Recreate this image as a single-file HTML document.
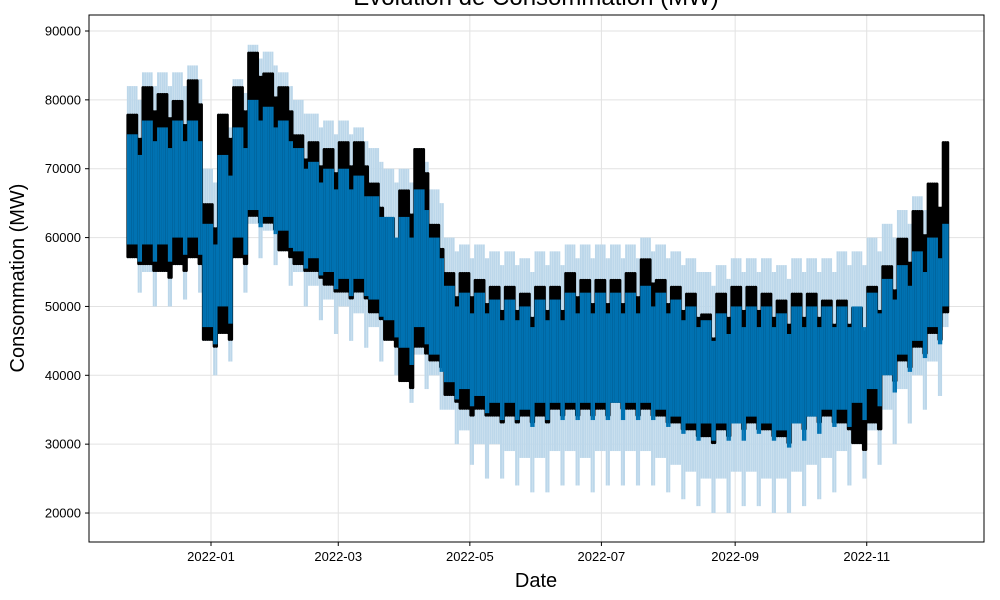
<!DOCTYPE html>
<html><head><meta charset="utf-8"><style>
body{margin:0;background:#fff;}
svg{display:block;font-family:"Liberation Sans","DejaVu Sans",sans-serif;}
</style></head><body>
<svg id="chart" width="1000" height="600">
<text x="536" y="5" text-anchor="middle" font-size="24" fill="#000">Évolution de Consommation (MW)</text>
<g id="grid"></g>
<g id="marks"></g>
<rect x="89" y="15" width="895" height="527" fill="none" stroke="#000" stroke-width="1"/>
<g id="axes"></g>
<text x="536" y="587" text-anchor="middle" font-size="20">Date</text>
<text transform="translate(24,278) rotate(-90)" text-anchor="middle" font-size="20">Consommation (MW)</text>
</svg>
<script>
// weekly data, week starts from 2021-11-23 (values in thousands MW)
const actMax=[78,82,81,80,83,65,78,82,87,84,82,75,74,73,74,74,68,63,67,73,62,55,55,54,53,53,52,53,53,55,54,54,54,55,57,54,53,52,49,52,53,53,52,51,52,52,51,51,50,53,56,60,64,68,74];
const actMin=[57,56,55,56,57,45,46,57,63,62,58,56,55,53,52,52,49,45,39,44,42,37,35,35,34,34,34,34,35,35,35,35,36,35,35,34,33,32,31,32,33,33,32,31,33,34,34,33,30,33,40,42,44,46,49];
const fcMax=[75,77,76,77,77,62,72,76,80,79,77,73,71,70,70,69,66,63,63,67,60,53,52,52,51,51,50,51,51,52,52,52,52,52,53,52,51,50,48,49,50,50,50,49,50,50,50,50,50,52,54,56,58,60,62];
const fcMin=[59,59,59,60,60,47,50,60,64,63,61,58,57,55,54,54,51,48,44,47,43,39,38,37,36,36,35,36,36,36,36,36,36,36,36,35,34,33,33,33,33,34,33,32,33,34,35,35,36,38,40,43,45,47,50];
const upMax=[82,84,84,84,85,70,78,83,88,87,84,80,78,77,77,76,73,70,70,73,67,60,59,59,58,58,57,58,58,59,59,59,59,59,60,59,58,57,55,56,57,57,57,56,57,57,57,58,58,60,62,64,66,66,66];
const upMin=[52,50,50,51,52,40,42,52,57,56,53,50,48,46,45,44,42,40,36,38,35,30,27,25,25,24,23,23,24,24,23,24,24,24,24,23,22,21,20,20,21,21,20,20,21,22,23,24,25,27,30,33,35,37,42];
const yTicks=[20000,30000,40000,50000,60000,70000,80000,90000];
const xTickLabels=["2022-01","2022-03","2022-05","2022-07","2022-09","2022-11"];
const xTickDays=[0,59,120,181,243,304];

const NS="http://www.w3.org/2000/svg";
const X=d=>211+d*2.157;
const Y=v=>31+(90000-v)/1000*6.886;
const startDay=-39;
function el(tag,attrs,parent){const e=document.createElementNS(NS,tag);for(const k in attrs)e.setAttribute(k,attrs[k]);parent.appendChild(e);return e;}
const grid=document.getElementById('grid'),axes=document.getElementById('axes'),marks=document.getElementById('marks');
yTicks.forEach(v=>{
  const g=el('line',{x1:89,x2:984,y1:Y(v),y2:Y(v),stroke:'#e2e2e2','stroke-width':1},grid);
  
  
  el('line',{x1:85,x2:89,y1:Y(v),y2:Y(v),stroke:'#000'},axes);
  const t=el('text',{x:81,y:Y(v)+4.5,'text-anchor':'end','font-size':13},axes);
  t.textContent=v;
  
  
});
xTickDays.forEach((d,i)=>{
  const g=el('line',{x1:X(d),x2:X(d),y1:15,y2:542,stroke:'#e2e2e2','stroke-width':1},grid);
  
  
  el('line',{x1:X(d),x2:X(d),y1:542,y2:546,stroke:'#000'},axes);
  const t=el('text',{x:X(d),y:561,'text-anchor':'middle','font-size':13},axes);
  t.textContent=xTickLabels[i];
  
  
});
for(let i=0;i<actMax.length;i++){
  const nd=(i===actMax.length-1)?3:7;
  for(let k=0;k<nd;k++){
    const d=startDay+i*7+k;
    const wk=(k>=5);
    const x=X(d);
    const um=upMax[i]*1000-(wk?2000:0), un=upMin[i]*1000+(wk?0:5000);
    const r1=el('rect',{x:x,width:2.0,y:Y(um),height:Y(un)-Y(um),fill:'#bcd7ea'},marks);
    
    
  }
}
for(let i=0;i<actMax.length;i++){
  const nd=(i===actMax.length-1)?3:7;
  for(let k=0;k<nd;k++){
    const d=startDay+i*7+k;
    const wk=(k>=5);
    const am=actMax[i]*1000-(wk?3500:0), an=actMin[i]*1000-(wk?1000:0);
    const r=el('rect',{x:X(d)-0.5,width:3.2,y:Y(am),height:Y(an)-Y(am),fill:'#000',rx:1.5},marks);
    
    
  }
}
for(let i=0;i<actMax.length;i++){
  const nd=(i===actMax.length-1)?3:7;
  for(let k=0;k<nd;k++){
    const d=startDay+i*7+k;
    const wk=(k>=5);
    const x=X(d);
    const fm=fcMax[i]*1000-(wk?3000:0), fn=fcMin[i]*1000-(wk?2500:0);
    const r=el('rect',{x:x,width:2.2,y:Y(fm),height:Y(fn)-Y(fm),fill:'#0072b2'},marks);
    
    
  }
}
</script>
</body></html>
